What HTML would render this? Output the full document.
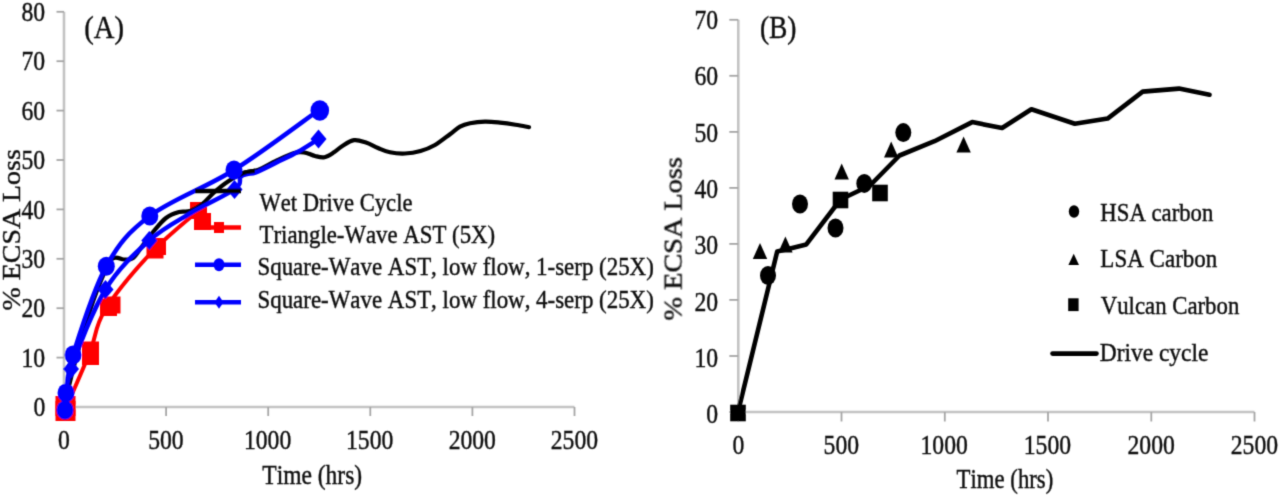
<!DOCTYPE html>
<html><head><meta charset="utf-8"><title>ECSA Loss vs Time</title>
<style>
html,body{margin:0;padding:0;background:#fff;}
body{width:1280px;height:497px;overflow:hidden;}
svg{display:block;}
#wrap{width:1280px;height:497px;}
svg text{font-family:'Liberation Serif','Times New Roman',serif;font-kerning:none;font-feature-settings:"kern" 0,"liga" 0;stroke:#111;stroke-width:0.45px;fill:#111;}
</style></head>
<body>
<div id="wrap">
<svg width="1280" height="497" viewBox="0 0 1280 497">
<filter id="soft" x="0" y="0" width="1280" height="497" filterUnits="userSpaceOnUse"><feConvolveMatrix order="3" kernelMatrix="0.02250 0.10500 0.02250 0.10500 0.49000 0.10500 0.02250 0.10500 0.02250" divisor="1" preserveAlpha="false" edgeMode="none"/></filter>
<rect width="1280" height="497" fill="#fff"/>
<g filter="url(#soft)">
<g stroke="#c3c3c3" stroke-width="2.6" fill="none">
<path d="M64.0,11.800000000000011 V407.0 H574.5"/>
<path d="M56.5,407.0 H64.0" stroke="#a6a6a6" stroke-width="1.8"/>
<path d="M56.5,357.6 H64.0" stroke="#a6a6a6" stroke-width="1.8"/>
<path d="M56.5,308.2 H64.0" stroke="#a6a6a6" stroke-width="1.8"/>
<path d="M56.5,258.8 H64.0" stroke="#a6a6a6" stroke-width="1.8"/>
<path d="M56.5,209.4 H64.0" stroke="#a6a6a6" stroke-width="1.8"/>
<path d="M56.5,160.0 H64.0" stroke="#a6a6a6" stroke-width="1.8"/>
<path d="M56.5,110.6 H64.0" stroke="#a6a6a6" stroke-width="1.8"/>
<path d="M56.5,61.2 H64.0" stroke="#a6a6a6" stroke-width="1.8"/>
<path d="M56.5,11.8 H64.0" stroke="#a6a6a6" stroke-width="1.8"/>
<path d="M64.0,407.0 V416.0" stroke="#a6a6a6" stroke-width="1.8"/>
<path d="M166.1,407.0 V416.0" stroke="#a6a6a6" stroke-width="1.8"/>
<path d="M268.2,407.0 V416.0" stroke="#a6a6a6" stroke-width="1.8"/>
<path d="M370.3,407.0 V416.0" stroke="#a6a6a6" stroke-width="1.8"/>
<path d="M472.4,407.0 V416.0" stroke="#a6a6a6" stroke-width="1.8"/>
<path d="M574.5,407.0 V416.0" stroke="#a6a6a6" stroke-width="1.8"/>
</g>
<text transform="translate(33.38,416.20) scale(0.8600,1)" font-size="27.5" fill="#000" >0</text>
<text transform="translate(21.55,366.80) scale(0.8600,1)" font-size="27.5" fill="#000" >10</text>
<text transform="translate(21.55,317.40) scale(0.8600,1)" font-size="27.5" fill="#000" >20</text>
<text transform="translate(21.55,268.00) scale(0.8600,1)" font-size="27.5" fill="#000" >30</text>
<text transform="translate(21.55,218.60) scale(0.8600,1)" font-size="27.5" fill="#000" >40</text>
<text transform="translate(21.55,169.20) scale(0.8600,1)" font-size="27.5" fill="#000" >50</text>
<text transform="translate(21.55,119.80) scale(0.8600,1)" font-size="27.5" fill="#000" >60</text>
<text transform="translate(21.55,70.40) scale(0.8600,1)" font-size="27.5" fill="#000" >70</text>
<text transform="translate(21.55,21.00) scale(0.8600,1)" font-size="27.5" fill="#000" >80</text>
<text transform="translate(58.09,448.80) scale(0.8600,1)" font-size="27.5" fill="#000" >0</text>
<text transform="translate(148.13,448.80) scale(0.8600,1)" font-size="27.5" fill="#000" >500</text>
<text transform="translate(243.96,448.80) scale(0.8600,1)" font-size="27.5" fill="#000" >1000</text>
<text transform="translate(346.06,448.80) scale(0.8600,1)" font-size="27.5" fill="#000" >1500</text>
<text transform="translate(448.68,448.80) scale(0.8600,1)" font-size="27.5" fill="#000" >2000</text>
<text transform="translate(550.78,448.80) scale(0.8600,1)" font-size="27.5" fill="#000" >2500</text>
<text transform="translate(262.27,484.00) scale(0.8556,1)" font-size="27.5" fill="#000" >Time (hrs)</text>
<text transform="translate(19.80,310.45) scale(0.9000,0.9967) rotate(-90)" font-size="28">% ECSA Loss</text>
<text transform="translate(84.34,38.20) scale(0.9082,1)" font-size="31.5" fill="#000" >(A)</text>
<path d="M65.00,410.00 C69.17,400.33 83.42,368.50 90.00,352.00 C96.58,335.50 94.50,327.33 104.50,311.00 C114.50,294.67 134.33,270.75 150.00,254.00 C165.67,237.25 190.42,217.75 198.50,210.50" stroke="#ff0000" stroke-width="4" fill="none" stroke-linejoin="round"/>
<rect x="55.5" y="396.0" width="20" height="20" fill="#ff0000"/>
<rect x="55.5" y="401.0" width="20" height="20" fill="#ff0000"/>
<rect x="82.0" y="341.5" width="17" height="17" fill="#ff0000"/>
<rect x="82.0" y="348.0" width="17" height="17" fill="#ff0000"/>
<rect x="100.0" y="299.0" width="17" height="17" fill="#ff0000"/>
<rect x="103.5" y="296.5" width="17" height="17" fill="#ff0000"/>
<rect x="146.5" y="241.5" width="17" height="17" fill="#ff0000"/>
<rect x="149.0" y="238.0" width="17" height="17" fill="#ff0000"/>
<rect x="190.0" y="202.0" width="17" height="17" fill="#ff0000"/>
<rect x="194.0" y="213.0" width="17" height="17" fill="#ff0000"/>
<path d="M64.00,407.00 C65.50,400.83 69.17,384.50 73.00,370.00 C76.83,355.50 82.50,334.50 87.00,320.00 C91.50,305.50 95.83,293.17 100.00,283.00 C104.17,272.83 108.00,262.92 112.00,259.00 C116.00,255.08 120.50,259.67 124.00,259.50 C127.50,259.33 129.83,260.42 133.00,258.00 C136.17,255.58 139.67,249.33 143.00,245.00 C146.33,240.67 149.17,236.50 153.00,232.00 C156.83,227.50 161.67,221.33 166.00,218.00 C170.33,214.67 175.00,213.17 179.00,212.00 C183.00,210.83 186.00,212.42 190.00,211.00 C194.00,209.58 199.00,206.58 203.00,203.50 C207.00,200.42 209.83,196.17 214.00,192.50 C218.17,188.83 223.00,184.78 228.00,181.50 C233.00,178.22 239.00,174.73 244.00,172.80 C249.00,170.87 252.67,171.90 258.00,169.90 C263.33,167.90 270.00,163.62 276.00,160.80 C282.00,157.98 289.33,154.42 294.00,153.00 C298.67,151.58 300.50,151.80 304.00,152.30 C307.50,152.80 311.58,155.18 315.00,156.00 C318.42,156.82 321.33,157.82 324.50,157.20 C327.67,156.58 331.08,154.13 334.00,152.30 C336.92,150.47 338.67,148.22 342.00,146.20 C345.33,144.18 350.00,140.80 354.00,140.20 C358.00,139.60 362.00,141.30 366.00,142.60 C370.00,143.90 374.00,146.38 378.00,148.00 C382.00,149.62 385.50,151.38 390.00,152.30 C394.50,153.22 399.92,153.72 405.00,153.50 C410.08,153.28 415.50,152.42 420.50,151.00 C425.50,149.58 430.08,147.80 435.00,145.00 C439.92,142.20 445.83,137.25 450.00,134.20 C454.17,131.15 456.67,128.52 460.00,126.70 C463.33,124.88 465.83,124.15 470.00,123.30 C474.17,122.45 480.00,121.72 485.00,121.60 C490.00,121.48 494.92,122.08 500.00,122.60 C505.08,123.12 510.67,123.93 515.50,124.70 C520.33,125.47 526.75,126.78 529.00,127.20" stroke="#000" stroke-width="4.2" fill="none" stroke-linecap="round" stroke-linejoin="round"/>
<path d="M65.00,408.00 C66.00,401.50 64.25,388.75 71.00,369.00 C77.75,349.25 92.45,310.92 105.50,289.50 C118.55,268.08 135.05,253.25 149.30,240.50 C163.55,227.75 176.72,221.58 191.00,213.00 C205.28,204.42 226.75,195.00 235.00,189.00 C243.25,183.00 238.33,179.53 240.50,177.00 C242.67,174.47 245.42,174.57 248.00,173.80 C250.58,173.03 251.17,174.32 256.00,172.40 C260.83,170.48 270.00,165.73 277.00,162.30 C284.00,158.87 291.08,155.68 298.00,151.80 C304.92,147.92 315.08,141.13 318.50,139.00" stroke="#0000ff" stroke-width="4.5" fill="none" stroke-linejoin="round"/>
<path d="M65,398.5 L73,408 L65,417.5 L57,408 Z" fill="#0000ff"/>
<path d="M71,359.5 L79,369 L71,378.5 L63,369 Z" fill="#0000ff"/>
<path d="M105.5,280.0 L113.5,289.5 L105.5,299.0 L97.5,289.5 Z" fill="#0000ff"/>
<path d="M149.3,231.0 L157.3,240.5 L149.3,250.0 L141.3,240.5 Z" fill="#0000ff"/>
<path d="M234.5,180.0 L242.5,189.5 L234.5,199.0 L226.5,189.5 Z" fill="#0000ff"/>
<path d="M318.5,129.5 L326.5,139 L318.5,148.5 L310.5,139 Z" fill="#0000ff"/>
<clipPath id="clipseg"><rect x="238" y="160" width="17" height="25"/></clipPath>
<path d="M64.00,407.00 C65.50,400.83 69.17,384.50 73.00,370.00 C76.83,355.50 82.50,334.50 87.00,320.00 C91.50,305.50 95.83,293.17 100.00,283.00 C104.17,272.83 108.00,262.92 112.00,259.00 C116.00,255.08 120.50,259.67 124.00,259.50 C127.50,259.33 129.83,260.42 133.00,258.00 C136.17,255.58 139.67,249.33 143.00,245.00 C146.33,240.67 149.17,236.50 153.00,232.00 C156.83,227.50 161.67,221.33 166.00,218.00 C170.33,214.67 175.00,213.17 179.00,212.00 C183.00,210.83 186.00,212.42 190.00,211.00 C194.00,209.58 199.00,206.58 203.00,203.50 C207.00,200.42 209.83,196.17 214.00,192.50 C218.17,188.83 223.00,184.78 228.00,181.50 C233.00,178.22 239.00,174.73 244.00,172.80 C249.00,170.87 252.67,171.90 258.00,169.90 C263.33,167.90 270.00,163.62 276.00,160.80 C282.00,157.98 289.33,154.42 294.00,153.00 C298.67,151.58 300.50,151.80 304.00,152.30 C307.50,152.80 311.58,155.18 315.00,156.00 C318.42,156.82 321.33,157.82 324.50,157.20 C327.67,156.58 331.08,154.13 334.00,152.30 C336.92,150.47 338.67,148.22 342.00,146.20 C345.33,144.18 350.00,140.80 354.00,140.20 C358.00,139.60 362.00,141.30 366.00,142.60 C370.00,143.90 374.00,146.38 378.00,148.00 C382.00,149.62 385.50,151.38 390.00,152.30 C394.50,153.22 399.92,153.72 405.00,153.50 C410.08,153.28 415.50,152.42 420.50,151.00 C425.50,149.58 430.08,147.80 435.00,145.00 C439.92,142.20 445.83,137.25 450.00,134.20 C454.17,131.15 456.67,128.52 460.00,126.70 C463.33,124.88 465.83,124.15 470.00,123.30 C474.17,122.45 480.00,121.72 485.00,121.60 C490.00,121.48 494.92,122.08 500.00,122.60 C505.08,123.12 510.67,123.93 515.50,124.70 C520.33,125.47 526.75,126.78 529.00,127.20" stroke="#000" stroke-width="4.2" fill="none" stroke-linecap="round" stroke-linejoin="round" clip-path="url(#clipseg)"/>
<path d="M65.00,410.00 C65.17,407.17 64.67,402.17 66.00,393.00 C67.33,383.83 66.28,376.13 73.00,355.00 C79.72,333.87 93.50,289.37 106.30,266.20 C119.10,243.03 128.52,232.03 149.80,216.00 C171.08,199.97 205.80,187.67 234.00,170.00 C262.20,152.33 304.83,120.00 319.00,110.00" stroke="#0000ff" stroke-width="4.5" fill="none" stroke-linejoin="round"/>
<ellipse cx="65" cy="410" rx="8.5" ry="9.5" fill="#0000ff"/>
<ellipse cx="66" cy="393" rx="8.5" ry="9.5" fill="#0000ff"/>
<ellipse cx="73" cy="355" rx="8.5" ry="9.5" fill="#0000ff"/>
<ellipse cx="106.3" cy="266.2" rx="8.5" ry="9.5" fill="#0000ff"/>
<ellipse cx="149.8" cy="216" rx="8.5" ry="9.5" fill="#0000ff"/>
<ellipse cx="234" cy="170" rx="8.5" ry="9.5" fill="#0000ff"/>
<ellipse cx="319.8" cy="110.5" rx="9.3" ry="10.2" fill="#0000ff"/>
<path d="M195,191 H241" stroke="#000" stroke-width="4.5"/>
<path d="M195,227.5 H241" stroke="#ff0000" stroke-width="4.5"/>
<rect x="214" y="222.0" width="10" height="11" fill="#ff0000"/>
<path d="M195,264.7 H241" stroke="#0000ff" stroke-width="4.5"/>
<ellipse cx="219" cy="264.7" rx="5.5" ry="6.5" fill="#0000ff"/>
<path d="M195,302.3 H241" stroke="#0000ff" stroke-width="4.5"/>
<path d="M219,295.8 L223.5,302.3 L219,308.8 L214.5,302.3 Z" fill="#0000ff"/>
<text transform="translate(259.48,210.50) scale(0.8857,1)" font-size="25.5" fill="#000" >Wet Drive Cycle</text>
<text transform="translate(259.59,243.00) scale(0.8945,1)" font-size="25.5" fill="#000" >Triangle-Wave AST (5X)</text>
<text transform="translate(257.47,275.20) scale(0.8986,1)" font-size="25.5" fill="#000" >Square-Wave AST, low flow, 1-serp (25X)</text>
<text transform="translate(257.47,307.50) scale(0.8986,1)" font-size="25.5" fill="#000" >Square-Wave AST, low flow, 4-serp (25X)</text>
<g stroke="#c3c3c3" stroke-width="2.6" fill="none">
<path d="M738.3,19.8 V412.0 H1254.5"/>
<path d="M729.3,412.0 H738.3" stroke="#a6a6a6" stroke-width="1.8"/>
<path d="M729.3,356.0 H738.3" stroke="#a6a6a6" stroke-width="1.8"/>
<path d="M729.3,299.9 H738.3" stroke="#a6a6a6" stroke-width="1.8"/>
<path d="M729.3,243.9 H738.3" stroke="#a6a6a6" stroke-width="1.8"/>
<path d="M729.3,187.9 H738.3" stroke="#a6a6a6" stroke-width="1.8"/>
<path d="M729.3,131.9 H738.3" stroke="#a6a6a6" stroke-width="1.8"/>
<path d="M729.3,75.8 H738.3" stroke="#a6a6a6" stroke-width="1.8"/>
<path d="M729.3,19.8 H738.3" stroke="#a6a6a6" stroke-width="1.8"/>
<path d="M738.3,412.0 V421.5" stroke="#a6a6a6" stroke-width="1.8"/>
<path d="M841.5,412.0 V421.5" stroke="#a6a6a6" stroke-width="1.8"/>
<path d="M944.8,412.0 V421.5" stroke="#a6a6a6" stroke-width="1.8"/>
<path d="M1048.0,412.0 V421.5" stroke="#a6a6a6" stroke-width="1.8"/>
<path d="M1151.3,412.0 V421.5" stroke="#a6a6a6" stroke-width="1.8"/>
<path d="M1254.5,412.0 V421.5" stroke="#a6a6a6" stroke-width="1.8"/>
</g>
<text transform="translate(706.28,423.40) scale(0.8600,1)" font-size="27.5" fill="#000" >0</text>
<text transform="translate(694.45,367.06) scale(0.8600,1)" font-size="27.5" fill="#000" >10</text>
<text transform="translate(694.45,310.71) scale(0.8600,1)" font-size="27.5" fill="#000" >20</text>
<text transform="translate(694.45,254.37) scale(0.8600,1)" font-size="27.5" fill="#000" >30</text>
<text transform="translate(694.45,198.02) scale(0.8600,1)" font-size="27.5" fill="#000" >40</text>
<text transform="translate(694.45,141.68) scale(0.8600,1)" font-size="27.5" fill="#000" >50</text>
<text transform="translate(694.45,85.33) scale(0.8600,1)" font-size="27.5" fill="#000" >60</text>
<text transform="translate(694.45,28.99) scale(0.8600,1)" font-size="27.5" fill="#000" >70</text>
<text transform="translate(732.39,454.40) scale(0.8600,1)" font-size="27.5" fill="#000" >0</text>
<text transform="translate(823.57,454.40) scale(0.8600,1)" font-size="27.5" fill="#000" >500</text>
<text transform="translate(920.54,454.40) scale(0.8600,1)" font-size="27.5" fill="#000" >1000</text>
<text transform="translate(1023.78,454.40) scale(0.8600,1)" font-size="27.5" fill="#000" >1500</text>
<text transform="translate(1127.54,454.40) scale(0.8600,1)" font-size="27.5" fill="#000" >2000</text>
<text transform="translate(1230.78,454.40) scale(0.8600,1)" font-size="27.5" fill="#000" >2500</text>
<text transform="translate(956.59,488.10) scale(0.8278,1)" font-size="27.5" fill="#000" >Time (hrs)</text>
<text transform="translate(682.00,320.57) scale(0.9000,1.0105) rotate(-90)" font-size="28">% ECSA Loss</text>
<text transform="translate(759.89,38.20) scale(0.8720,1)" font-size="31.5" fill="#000" >(B)</text>
<path d="M738.00,412.00 L777.20,251.50 L790.20,248.40 L806.30,244.40 L840.50,199.50 L870.00,185.50 L899.50,155.50 L934.50,141.20 L972.20,122.10 L1002.10,128.00 L1031.40,109.20 L1074.80,123.70 L1107.60,118.60 L1142.70,91.60 L1179.00,88.60 L1209.50,94.70" stroke="#000" stroke-width="4.6" fill="none" stroke-linejoin="round" stroke-linecap="round"/>
<ellipse cx="768" cy="275.5" rx="8" ry="9.5" fill="#000"/>
<ellipse cx="800" cy="204" rx="8" ry="9.5" fill="#000"/>
<ellipse cx="835.5" cy="228" rx="8" ry="9.5" fill="#000"/>
<ellipse cx="864.3" cy="183.4" rx="8" ry="9.5" fill="#000"/>
<ellipse cx="903.3" cy="132.6" rx="8" ry="9.5" fill="#000"/>
<path d="M760,243.0 L767.2,259.0 L752.8,259.0 Z" fill="#000"/>
<path d="M785.4,236.5 L792.6,252.5 L778.1999999999999,252.5 Z" fill="#000"/>
<path d="M841.7,163.5 L848.9000000000001,179.5 L834.5,179.5 Z" fill="#000"/>
<path d="M891.2,141.5 L898.4000000000001,157.5 L884.0,157.5 Z" fill="#000"/>
<path d="M963.6,136.5 L970.8000000000001,152.5 L956.4,152.5 Z" fill="#000"/>
<rect x="730.2" y="404.7" width="15.6" height="16.6" fill="#000"/>
<rect x="832.7" y="191.7" width="15.6" height="16.6" fill="#000"/>
<rect x="872.2" y="184.7" width="15.6" height="16.6" fill="#000"/>
<ellipse cx="1074" cy="211.5" rx="5.2" ry="6.2" fill="#000"/>
<path d="M1073.7,253.8 L1079,265 L1068.4,265 Z" fill="#000"/>
<rect x="1068.2" y="298.3" width="10.4" height="12.8" fill="#000"/>
<path d="M1052.5,353.6 H1096.5" stroke="#000" stroke-width="4.6" stroke-linecap="round"/>
<text transform="translate(1100.35,220.80) scale(0.8914,1)" font-size="25.5" fill="#000" >HSA carbon</text>
<text transform="translate(1100.34,266.70) scale(0.9028,1)" font-size="25.5" fill="#000" >LSA Carbon</text>
<text transform="translate(1100.74,313.50) scale(0.8937,1)" font-size="25.5" fill="#000" >Vulcan Carbon</text>
<text transform="translate(1099.72,360.50) scale(0.9193,1)" font-size="25.5" fill="#000" >Drive cycle</text>
</g>
</svg>
</div>
</body></html>
